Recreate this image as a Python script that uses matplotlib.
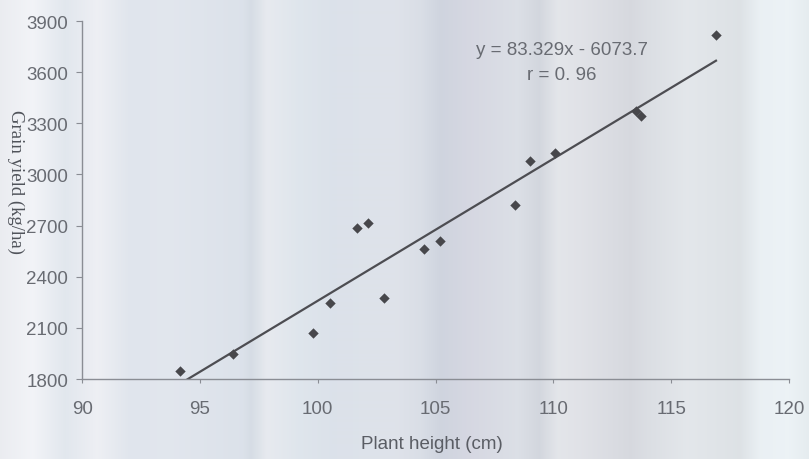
import matplotlib
matplotlib.use("Agg")
import matplotlib.pyplot as plt
import numpy as np
from matplotlib.colors import to_rgb

# plant height (cm) vs grain yield (kg/ha)
plant_height = [94.15, 96.4, 99.8, 100.5, 101.65, 102.15, 102.8, 104.5,
                105.2, 108.35, 109.0, 110.05, 113.5, 113.7, 116.9]
grain_yield = [1845, 1945, 2070, 2245, 2685, 2715, 2275, 2560,
               2610, 2820, 3080, 3125, 3370, 3345, 3820]

slope = 83.329
intercept = -6073.7
r_value = 0.96

x_ticks = [90, 95, 100, 105, 110, 115, 120]
y_ticks = [1800, 2100, 2400, 2700, 3000, 3300, 3600, 3900]

# streaky paper tone behind the chart: (fraction of width, colour)
paper_tone = [(0.00, "#e4e6ec"), (0.04, "#eef0f5"), (0.08, "#d8dfe8"),
              (0.12, "#e8eaf0"), (0.16, "#d6dde7"), (0.21, "#d8dee8"),
              (0.30, "#d0d8e3"), (0.31, "#c8d1dc"), (0.33, "#dfe3ea"),
              (0.37, "#d4dde6"), (0.41, "#d0d8e3"), (0.49, "#d4d9e3"),
              (0.52, "#cdd3de"), (0.545, "#bfc6d4"), (0.58, "#c8cad8"),
              (0.64, "#d0d5de"), (0.667, "#c4c9d3"), (0.69, "#dadde3"),
              (0.72, "#d6d8df"), (0.78, "#c9ccd4"), (0.80, "#cfd3da"),
              (0.85, "#dadfe4"), (0.915, "#d2d8dd"), (0.94, "#e3ebf0"),
              (0.975, "#e6eef3"), (1.00, "#dde6ea")]

fig = plt.figure(figsize=(8.09, 4.60), dpi=100)

bg = fig.add_axes([0, 0, 1, 1], zorder=-1)
pos = np.array([p for p, _ in paper_tone])
cols = np.array([to_rgb(c) for _, c in paper_tone])
cols = cols + (1 - cols) * 0.25  # wash the tones out a little
xs = np.linspace(0, 1, 809)
strip = np.stack([np.interp(xs, pos, cols[:, k]) for k in range(3)], axis=-1)
bg.imshow(strip[np.newaxis, :, :], aspect="auto", extent=(0, 1, 0, 1))
bg.axis("off")

ax = fig.add_axes([0.1016, 0.1739, 0.8737, 0.7781])
ax.set_facecolor("none")

ax.scatter(plant_height, grain_yield, marker="D", s=28, color="#47474b",
           zorder=3, linewidths=0)

# fitted line over the data range, clipped at the axis floor
fit_x = np.linspace(min(plant_height), max(plant_height), 200)
fit_y = slope * fit_x + intercept
ax.plot(fit_x, fit_y, color="#4d4d52", linewidth=1.6, zorder=2)

ax.set_xlim(90, 120)
ax.set_ylim(1800, 3900)
ax.set_xticks(x_ticks)
ax.set_yticks(y_ticks)

for side in ("top", "right"):
    ax.spines[side].set_visible(False)
for side in ("left", "bottom"):
    ax.spines[side].set_color("#8a8d94")
    ax.spines[side].set_linewidth(1.0)

txt_size = 13.5
tick_font = {"family": "Liberation Sans", "size": txt_size}
ax.set_xticklabels([str(v) for v in x_ticks], fontdict=tick_font, color="#686b72")
ax.set_yticklabels([str(v) for v in y_ticks], fontdict=tick_font, color="#686b72")
ax.tick_params(axis="x", length=3, color="#8a8d94", pad=12)
ax.tick_params(axis="y", length=4, color="#8a8d94", pad=6)

ax.set_xlabel("Plant height (cm)", family="Liberation Sans", fontsize=txt_size,
              color="#5a5d64", labelpad=13, x=0.495)
fig.text(0.019, 0.605, "Grain yield (kg/ha)", rotation=270, ha="center",
         va="center", family="Liberation Serif", fontsize=txt_size,
         color="#50535a")

ax.text(0.679, 0.92, f"y = {slope}x - {abs(intercept)}", transform=ax.transAxes,
        ha="center", va="center", family="Liberation Sans", fontsize=txt_size,
        color="#686b72")
ax.text(0.679, 0.85, f"r = 0. {int(r_value * 100)}", transform=ax.transAxes,
        ha="center", va="center", family="Liberation Sans", fontsize=txt_size,
        color="#686b72")

fig.savefig("out.png", dpi=100)
